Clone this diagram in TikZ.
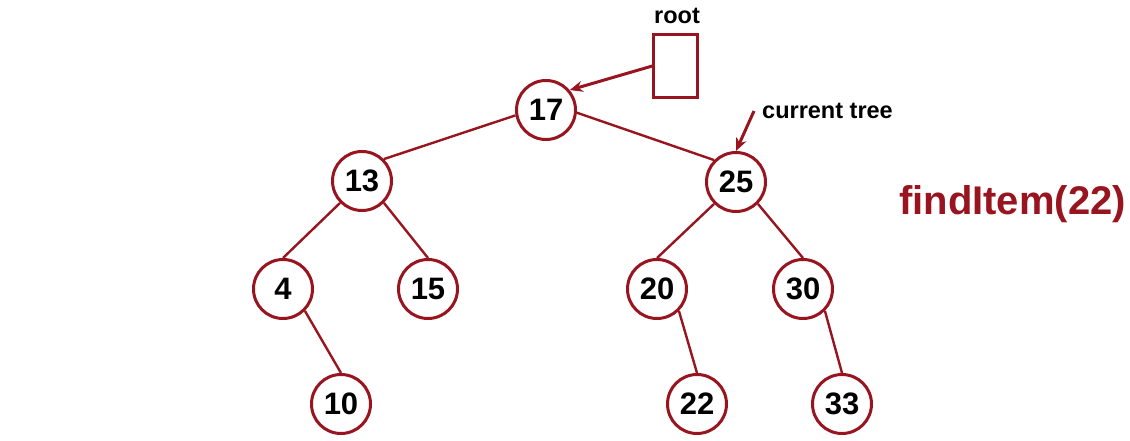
\documentclass[tikz,border=0pt]{standalone}
\usepackage{fontspec}
\setmainfont{Liberation Sans}
\usetikzlibrary{arrows.meta}
\definecolor{treered}{RGB}{152,20,30}

\begin{document}
\begin{tikzpicture}[x=1pt, y=-1pt,
		treenode/.style={circle, draw=treered, line width=3pt, fill=white, minimum size=59pt, inner sep=0pt, font=\bfseries\fontsize{31}{32}\selectfont},
		treeedge/.style={draw=treered, line width=2.4pt},
		pointer/.style={draw=treered, line width=3pt, -{Stealth[length=13pt, width=11pt]}},
		lbl/.style={font=\bfseries\fontsize{23.5}{24}\selectfont, inner sep=0pt}]
			%%%%% START %%%%%
			\useasboundingbox (0, 0) rectangle (1130, 441);
			
			\node[treenode] (n17) at (546, 110) {17};
			\node[treenode] (n13) at (362, 181) {13};
			\node[treenode] (n25) at (736, 182) {25};
			\node[treenode] (n4) at (283, 289) {4};
			\node[treenode] (n15) at (428, 289) {15};
			\node[treenode] (n20) at (657, 289) {20};
			\node[treenode] (n30) at (803, 289) {30};
			\node[treenode] (n10) at (341, 404) {10};
			\node[treenode] (n22) at (697, 404) {22};
			\node[treenode] (n33) at (842, 404) {33};
			
			\draw[treeedge] (n17.190) -- (n13.45);
			\draw[treeedge] (n17.-5) -- (n25.135);
			\draw[treeedge] (n13.-135) -- (n4.north);
			\draw[treeedge] (n13.-45) -- (n15.north);
			\draw[treeedge] (n25.-135) -- (n20.north);
			\draw[treeedge] (n25.-45) -- (n30.north);
			\draw[treeedge] (n4.-45) -- (n10.north);
			\draw[treeedge] (n20.-45) -- (n22.north);
			\draw[treeedge] (n30.-45) -- (n33.north);
			
			\node[lbl] (rootlbl) at (677, 16) {root};
			\node[draw=treered, line width=2.5pt, minimum width=44pt, minimum height=63pt, inner sep=0pt] (rootbox) at (675.5, 66) {};
			\draw[pointer] (rootbox.west) -- (n17.40);
			
			\node[lbl, anchor=west] (curlbl) at (762, 111) {current tree};
			\coordinate (curtail) at (754, 111);
			\draw[pointer] (curtail) -- (n25.north);
			
			\node[anchor=west, text=treered, inner sep=0pt, font=\bfseries\fontsize{40}{41}\selectfont] (call) at (899, 204) {findItem(22)};
			%%%%% END %%%%%
		\end{tikzpicture}
\end{document}
